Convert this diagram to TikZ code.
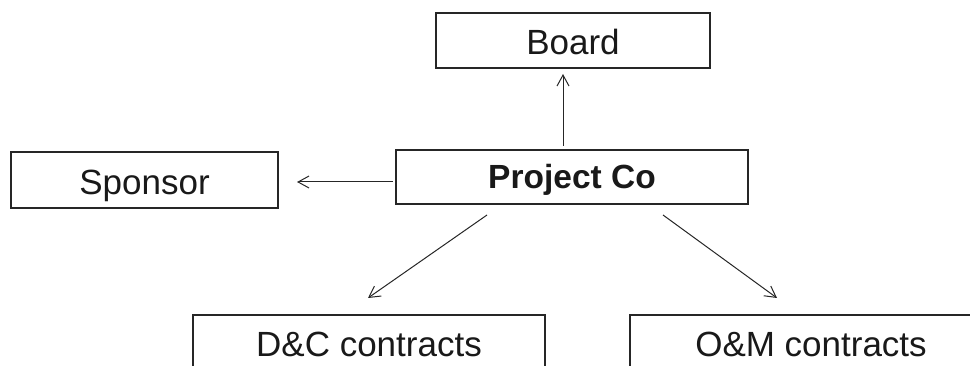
\documentclass[tikz,border=0pt]{standalone}
\usepackage{fontspec}
\setmainfont{Liberation Sans}
\usetikzlibrary{arrows.meta}
\begin{document}
\begin{tikzpicture}[x=1pt,y=1pt,
  box/.style={draw=black!85, line width=1.3pt, inner sep=0pt, outer sep=0pt,
    minimum height=54pt, text height=29pt, text depth=0pt,
    font=\fontsize{35}{42}\selectfont, text=black!90},
  arr/.style={draw=black!85, line width=1pt, -{Straight Barb[length=11pt,width=12pt,line width=1pt]}}]
\useasboundingbox (0,0) rectangle (970,-366);
\clip (0,0) rectangle (970,-366);
\node[box, minimum width=274pt, minimum height=55pt] (board) at (573,-40.5) {Board};
\node[box, minimum width=352pt, text height=24pt, font=\fontsize{33.5}{40}\selectfont\bfseries] (pc) at (572,-177) {Project Co};
\node[box, minimum width=267pt, minimum height=56pt] (sponsor) at (144.5,-180) {Sponsor};
\node[box, minimum width=352pt] (dc) at (369,-342) {D\&C contracts};
\node[box, minimum width=362pt] (om) at (811,-342) {O\&M contracts};
\coordinate (u1) at ([xshift=-9pt]pc.north);
\coordinate (u2) at (board.south -| u1);
\draw[arr, shorten <=4pt, shorten >=6pt] (u1) -- (u2);
\coordinate (l1) at ([yshift=-5pt]pc.west);
\coordinate (l2) at (sponsor.east |- l1);
\draw[arr, shorten <=3pt, shorten >=19pt] (l1) -- (l2);
\coordinate (s1) at ([xshift=91pt,yshift=-11pt]pc.south west);
\coordinate (e1) at ([xshift=-1pt,yshift=17pt]dc.north);
\draw[arr] (s1) -- (e1);
\coordinate (s2) at ([xshift=-85pt,yshift=-11pt]pc.south east);
\coordinate (e2) at ([xshift=-34pt,yshift=17pt]om.north);
\draw[arr] (s2) -- (e2);
\end{tikzpicture}
\end{document}
